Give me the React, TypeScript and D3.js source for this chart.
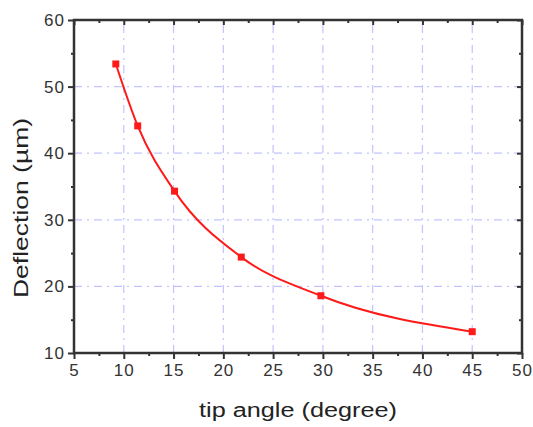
import React, { useEffect, useRef } from 'react';
import * as d3 from 'd3';

// tip angle (degree) vs deflection (um)
const tipAngle = [9.2, 11.4, 15.1, 21.8, 29.8, 45];
const deflection = [53.4, 44.1, 34.3, 24.4, 18.6, 13.2];
const xTicks = [5, 10, 15, 20, 25, 30, 35, 40, 45, 50];
const yTicks = [10, 20, 30, 40, 50, 60];
const xGrid = [10, 15, 20, 25, 30, 35, 40, 45];
const yGrid = [20, 30, 40, 50];

const W = 533, H = 427;
const margin = { top: 20, right: 11, bottom: 74, left: 74 };
const font = 'Arial, Liberation Sans, sans-serif';

export default function App() {
  const ref = useRef<SVGSVGElement>(null);

  useEffect(() => {
    const svg = d3.select(ref.current);
    svg.selectAll('*').remove();

    const x = d3.scaleLinear().domain([5, 50]).range([margin.left, W - margin.right]);
    const y = d3.scaleLinear().domain([10, 60]).range([H - margin.bottom, margin.top]);
    const axisColor = '#333';
    const gridColor = '#c2c2ff';

    // grid
    svg.append('g').selectAll('line').data(xGrid).enter().append('line')
      .attr('x1', d => x(d)).attr('x2', d => x(d))
      .attr('y1', y(10)).attr('y2', y(60))
      .attr('stroke', gridColor).attr('stroke-width', 1.2)
      .attr('stroke-dasharray', '8,5,2,5');
    svg.append('g').selectAll('line').data(yGrid).enter().append('line')
      .attr('x1', x(5)).attr('x2', x(50))
      .attr('y1', d => y(d)).attr('y2', d => y(d))
      .attr('stroke', gridColor).attr('stroke-width', 1.2)
      .attr('stroke-dasharray', '8,5,2,5');

    const tickStyle = (g: any) => {
      g.select('.domain').remove();
      g.selectAll('line').attr('stroke', axisColor).attr('stroke-width', 2);
      g.selectAll('text').attr('fill', axisColor).attr('font-family', font)
        .attr('font-size', 17).attr('letter-spacing', 1);
    };

    const minorX = d3.range(7.5, 50, 5);
    const minorY = d3.range(15, 60, 10);

    // bottom
    svg.append('g').attr('transform', `translate(0,${y(10)})`)
      .call(d3.axisBottom(x).tickValues(xTicks).tickSize(6).tickPadding(5).tickFormat(d3.format('d')))
      .call(tickStyle);
    svg.append('g').attr('transform', `translate(0,${y(10)})`)
      .call(d3.axisBottom(x).tickValues(minorX).tickSize(3).tickFormat(() => ''))
      .call(tickStyle);
    // top (inward)
    svg.append('g').attr('transform', `translate(0,${y(60)})`)
      .call(d3.axisBottom(x).tickValues(xTicks).tickSize(5).tickFormat(() => ''))
      .call(tickStyle);
    svg.append('g').attr('transform', `translate(0,${y(60)})`)
      .call(d3.axisBottom(x).tickValues(minorX).tickSize(3).tickFormat(() => ''))
      .call(tickStyle);
    // left
    svg.append('g').attr('transform', `translate(${x(5)},0)`)
      .call(d3.axisLeft(y).tickValues(yTicks).tickSize(6).tickPadding(3).tickFormat(d3.format('d')))
      .call(tickStyle);
    svg.append('g').attr('transform', `translate(${x(5)},0)`)
      .call(d3.axisLeft(y).tickValues(minorY).tickSize(3).tickFormat(() => ''))
      .call(tickStyle);
    // right (inward)
    svg.append('g').attr('transform', `translate(${x(50)},0)`)
      .call(d3.axisRight(y).tickValues(yTicks).tickSize(-5).tickFormat(() => ''))
      .call(tickStyle);
    svg.append('g').attr('transform', `translate(${x(50)},0)`)
      .call(d3.axisRight(y).tickValues(minorY).tickSize(-3).tickFormat(() => ''))
      .call(tickStyle);

    // frame
    svg.append('rect')
      .attr('x', x(5)).attr('y', y(60))
      .attr('width', x(50) - x(5)).attr('height', y(10) - y(60))
      .attr('fill', 'none').attr('stroke', axisColor).attr('stroke-width', 2.5);

    const pts = tipAngle.map((a, i) => [a, deflection[i]] as [number, number]);
    const line = d3.line<[number, number]>()
      .x(d => x(d[0])).y(d => y(d[1]))
      .curve(d3.curveMonotoneX);
    svg.append('path').attr('d', line(pts))
      .attr('fill', 'none').attr('stroke', '#ff1a1a').attr('stroke-width', 2);

    svg.append('g').selectAll('rect').data(pts).enter().append('rect')
      .attr('x', d => x(d[0]) - 3.5).attr('y', d => y(d[1]) - 3.5)
      .attr('width', 7).attr('height', 7)
      .attr('fill', '#ff1a1a');

    svg.append('text')
      .attr('x', (x(5) + x(50)) / 2).attr('y', 417)
      .attr('text-anchor', 'middle')
      .attr('font-family', font).attr('font-size', 20)
      .attr('textLength', 198).attr('lengthAdjust', 'spacingAndGlyphs')
      .attr('fill', '#222')
      .text('tip angle (degree)');

    svg.append('text')
      .attr('transform', `translate(28,208) rotate(-90)`)
      .attr('text-anchor', 'middle')
      .attr('font-family', font).attr('font-size', 21)
      .attr('textLength', 180).attr('lengthAdjust', 'spacingAndGlyphs')
      .attr('fill', '#222')
      .text('Deflection (µm)');
  }, []);

  return (
    <svg ref={ref} width={W} height={H} style={{ position: 'absolute', left: 0, top: 0, background: '#fff' }} />
  );
}
